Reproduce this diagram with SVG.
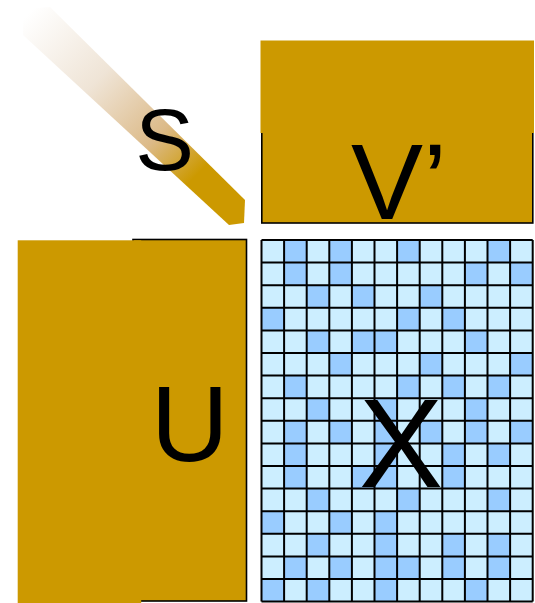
<svg xmlns="http://www.w3.org/2000/svg" width="535" height="603" viewBox="0 0 535 603">
<style>
.gold{fill:#cc9900}
.box{fill:#cc9900;stroke:#000;stroke-width:1.6}
.l{fill:#cceeff}
.d{fill:#99ccff}
.grid{fill:none;stroke:#000;stroke-width:2}
.t{font-family:"Liberation Sans",Arial,sans-serif;fill:#000}
</style>
<defs>
<linearGradient id="sg" gradientUnits="userSpaceOnUse" x1="30" y1="12" x2="225" y2="205">
<stop offset="0" stop-color="#ffffff"/>
<stop offset="0.35" stop-color="#efe4d6"/>
<stop offset="0.65" stop-color="#dcba88"/>
<stop offset="0.85" stop-color="#cc9900"/>
<stop offset="1" stop-color="#cc9900"/>
</linearGradient>
</defs>
<g id="S">
<polygon points="23,35 23,9 50,7 245,200 244,223 229,225" fill="url(#sg)"/>
<text class="t" x="164.7" y="169.5" font-size="88" text-anchor="middle">S</text>
</g>
<g id="V">
<rect class="box" x="261.8" y="42" width="271" height="181"/>
<rect class="gold" x="260.5" y="40.5" width="273.5" height="92.5"/>
<text class="t" x="351" y="219" font-size="108">V’</text>
</g>
<g id="U">
<rect class="box" x="133" y="239.5" width="113.5" height="361.5"/>
<rect class="gold" x="17.7" y="240.3" width="123.5" height="363"/>
<text class="t" x="150.8" y="461" font-size="108">U</text>
</g>
<g id="X">
<rect class="l" x="261.5" y="240" width="271.2" height="361.6"/>
<rect class="d" x="284.1" y="240" width="22.6" height="22.6"/><rect class="d" x="329.3" y="240" width="22.6" height="22.6"/><rect class="d" x="397.1" y="240" width="22.6" height="22.6"/><rect class="d" x="487.5" y="240" width="22.6" height="22.6"/>
<rect class="d" x="284.1" y="262.6" width="22.6" height="22.6"/><rect class="d" x="329.3" y="262.6" width="22.6" height="22.6"/><rect class="d" x="464.9" y="262.6" width="22.6" height="22.6"/><rect class="d" x="510.1" y="262.6" width="22.6" height="22.6"/>
<rect class="d" x="306.7" y="285.2" width="22.6" height="22.6"/><rect class="d" x="351.9" y="285.2" width="22.6" height="22.6"/><rect class="d" x="419.7" y="285.2" width="22.6" height="22.6"/>
<rect class="d" x="261.5" y="307.8" width="22.6" height="22.6"/><rect class="d" x="397.1" y="307.8" width="22.6" height="22.6"/><rect class="d" x="442.3" y="307.8" width="22.6" height="22.6"/>
<rect class="d" x="306.7" y="330.4" width="22.6" height="22.6"/><rect class="d" x="351.9" y="330.4" width="22.6" height="22.6"/><rect class="d" x="374.5" y="330.4" width="22.6" height="22.6"/><rect class="d" x="464.9" y="330.4" width="22.6" height="22.6"/>
<rect class="d" x="329.3" y="353" width="22.6" height="22.6"/><rect class="d" x="419.7" y="353" width="22.6" height="22.6"/><rect class="d" x="510.1" y="353" width="22.6" height="22.6"/>
<rect class="d" x="284.1" y="375.6" width="22.6" height="22.6"/><rect class="d" x="397.1" y="375.6" width="22.6" height="22.6"/><rect class="d" x="442.3" y="375.6" width="22.6" height="22.6"/><rect class="d" x="487.5" y="375.6" width="22.6" height="22.6"/>
<rect class="d" x="306.7" y="398.2" width="22.6" height="22.6"/><rect class="d" x="374.5" y="398.2" width="22.6" height="22.6"/><rect class="d" x="464.9" y="398.2" width="22.6" height="22.6"/>
<rect class="d" x="284.1" y="420.8" width="22.6" height="22.6"/><rect class="d" x="329.3" y="420.8" width="22.6" height="22.6"/><rect class="d" x="374.5" y="420.8" width="22.6" height="22.6"/><rect class="d" x="419.7" y="420.8" width="22.6" height="22.6"/><rect class="d" x="464.9" y="420.8" width="22.6" height="22.6"/><rect class="d" x="510.1" y="420.8" width="22.6" height="22.6"/>
<rect class="d" x="284.1" y="443.4" width="22.6" height="22.6"/><rect class="d" x="374.5" y="443.4" width="22.6" height="22.6"/><rect class="d" x="442.3" y="443.4" width="22.6" height="22.6"/><rect class="d" x="487.5" y="443.4" width="22.6" height="22.6"/>
<rect class="d" x="284.1" y="466" width="22.6" height="22.6"/><rect class="d" x="351.9" y="466" width="22.6" height="22.6"/><rect class="d" x="374.5" y="466" width="22.6" height="22.6"/><rect class="d" x="442.3" y="466" width="22.6" height="22.6"/>
<rect class="d" x="306.7" y="488.6" width="22.6" height="22.6"/><rect class="d" x="397.1" y="488.6" width="22.6" height="22.6"/><rect class="d" x="487.5" y="488.6" width="22.6" height="22.6"/>
<rect class="d" x="261.5" y="511.2" width="22.6" height="22.6"/><rect class="d" x="329.3" y="511.2" width="22.6" height="22.6"/><rect class="d" x="374.5" y="511.2" width="22.6" height="22.6"/>
<rect class="d" x="306.7" y="533.8" width="22.6" height="22.6"/><rect class="d" x="374.5" y="533.8" width="22.6" height="22.6"/><rect class="d" x="442.3" y="533.8" width="22.6" height="22.6"/><rect class="d" x="487.5" y="533.8" width="22.6" height="22.6"/>
<rect class="d" x="284.1" y="556.4" width="22.6" height="22.6"/><rect class="d" x="329.3" y="556.4" width="22.6" height="22.6"/><rect class="d" x="374.5" y="556.4" width="22.6" height="22.6"/><rect class="d" x="397.1" y="556.4" width="22.6" height="22.6"/><rect class="d" x="442.3" y="556.4" width="22.6" height="22.6"/><rect class="d" x="487.5" y="556.4" width="22.6" height="22.6"/>
<rect class="d" x="261.5" y="579" width="22.6" height="22.6"/><rect class="d" x="306.7" y="579" width="22.6" height="22.6"/><rect class="d" x="374.5" y="579" width="22.6" height="22.6"/><rect class="d" x="464.9" y="579" width="22.6" height="22.6"/>
<path class="grid" d="M261.5 240V601.6M284.1 240V601.6M306.7 240V601.6M329.3 240V601.6M351.9 240V601.6M374.5 240V601.6M397.1 240V601.6M419.7 240V601.6M442.3 240V601.6M464.9 240V601.6M487.5 240V601.6M510.1 240V601.6M532.7 240V601.6M261.5 240H532.7M261.5 262.6H532.7M261.5 285.2H532.7M261.5 307.8H532.7M261.5 330.4H532.7M261.5 353H532.7M261.5 375.6H532.7M261.5 398.2H532.7M261.5 420.8H532.7M261.5 443.4H532.7M261.5 466H532.7M261.5 488.6H532.7M261.5 511.2H532.7M261.5 533.8H532.7M261.5 556.4H532.7M261.5 579H532.7M261.5 601.6H532.7"/>
<text class="t" x="401" y="486.5" font-size="126" text-anchor="middle">X</text>
</g>
<g id="connectors"/>
</svg>
